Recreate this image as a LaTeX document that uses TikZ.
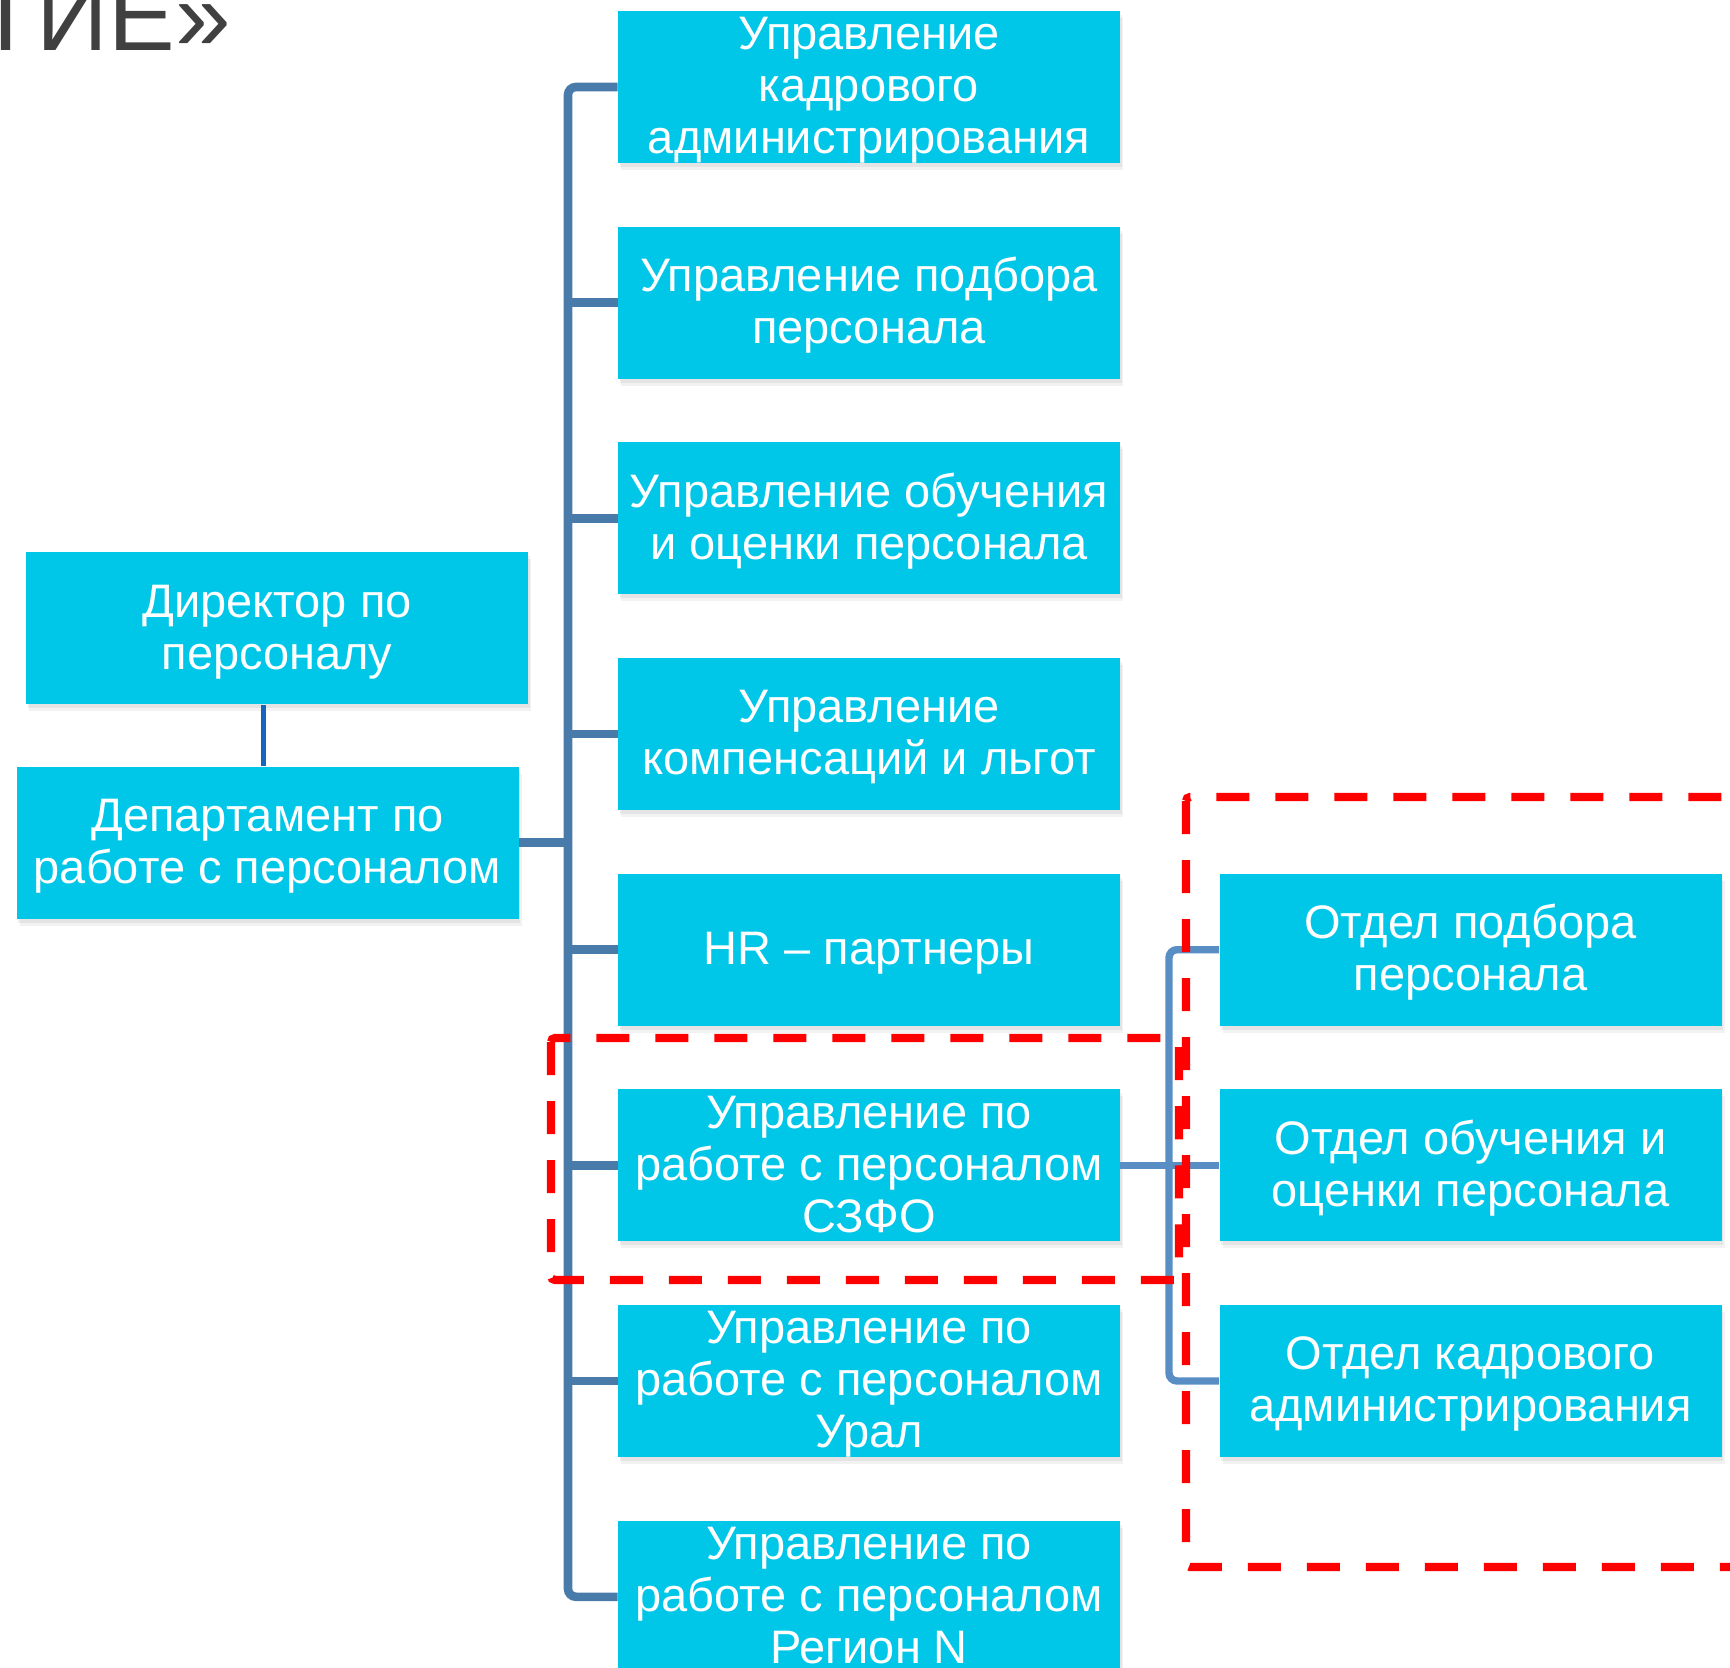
\documentclass[tikz,border=0pt]{standalone}
\usepackage{fontspec}
\setmainfont{Liberation Sans}
\usetikzlibrary{shadows}
\definecolor{boxc}{RGB}{0,198,232}
\definecolor{busc}{RGB}{72,122,170}
\definecolor{bustwo}{RGB}{88,142,196}
\definecolor{dirc}{RGB}{22,102,190}
\definecolor{titlec}{RGB}{64,64,64}
\newcommand{\boxtext}[1]{\raisebox{-2.2pt}[\dimexpr\height-2pt\relax][\dimexpr\depth-2pt\relax]{\begin{tabular}{@{}c@{}}#1\end{tabular}}}
\begin{document}
\begin{tikzpicture}[x=0.5pt,y=-0.5pt,
  unit/.style={fill=boxc, text=white, align=center, minimum width=251pt,
    minimum height=76pt, inner sep=0pt, font=\fontsize{23.5}{26}\selectfont,
    drop shadow={shadow xshift=1.5pt, shadow yshift=-3.5pt, opacity=0.10},
    drop shadow={shadow xshift=0.8pt, shadow yshift=-2pt, opacity=0.12}},
  busline/.style={draw=busc, line width=4.3pt, rounded corners=4pt},
  bustwoline/.style={draw=bustwo, line width=3.7pt, rounded corners=4pt},
  dirline/.style={draw=dirc, line width=2.7pt},
  reddash/.style={draw=red, line width=4.1pt, dash pattern=on 16.5pt off 13pt, rounded corners=2pt}
]
\useasboundingbox (0,0) rectangle (1730,1668);
\clip (0,0) rectangle (1730,1668);
\fill[white] (0,0) rectangle (1730,1668);

% title fragment
\node[anchor=base west, inner sep=0pt, text=titlec, font=\fontsize{50}{50}\selectfont] (title) at (-25,51) {ТИЕ»};

% coordinates of the buses
\coordinate (busx) at (568,0);
\coordinate (rbusx) at (1169,0);

% boxes
\node[unit] (b1) at (869,87) {\boxtext{Управление\\кадрового\\администрирования}};
\node[unit] (b2) at (869,302.7) {\boxtext{Управление подбора\\персонала}};
\node[unit] (b3) at (869,518.4) {\boxtext{Управление обучения\\и оценки персонала}};
\node[unit] (b4) at (869,734) {\boxtext{Управление\\компенсаций и льгот}};
\node[unit] (b5) at (869,949.7) {\boxtext{HR – партнеры}};
\node[unit] (b6) at (869,1165.4) {\boxtext{Управление по\\работе с персоналом\\СЗФО}};
\node[unit] (b7) at (869,1381) {\boxtext{Управление по\\работе с персоналом\\Урал}};
\node[unit] (b8) at (869,1596.8) {\boxtext{Управление по\\работе с персоналом\\Регион N}};

\node[unit] (dir) at (277,628.5) {\boxtext{Директор по\\персоналу}};
\node[unit] (dep) at (267.5,842.5) {\boxtext{Департамент по\\работе с персоналом}};

\node[unit] (r1) at (1470.5,949.7) {\boxtext{Отдел подбора\\персонала}};
\node[unit] (r2) at (1470.5,1165.4) {\boxtext{Отдел обучения и\\оценки персонала}};
\node[unit] (r3) at (1470.5,1381) {\boxtext{Отдел кадрового\\администрирования}};

% main bus
\draw[busline] (b1.west) -- (b1.west -| busx) -- (b8.west -| busx) -- (b8.west);
\foreach \n in {b2,b3,b4,b5,b6,b7}{
  \draw[busline] (\n.west) -- (\n.west -| busx);
}
\draw[busline] (dep.east) -- (dep.east -| busx);

% director to department
\draw[dirline] ([xshift=-2pt]dep.north) -- ([xshift=-2pt]dep.north |- dir.south);

% right bus
\draw[bustwoline] (b6.east) -- (b6.east -| rbusx);
\draw[bustwoline] (r1.west) -- (r1.west -| rbusx) -- (r3.west -| rbusx) -- (r3.west);
\draw[bustwoline] (r2.west) -- (r2.west -| rbusx);

% red dashed frames
\draw[reddash] (551,1038) rectangle (1179,1280);
\draw[reddash] (1186,797) rectangle (1780,1567);
\end{tikzpicture}
\end{document}
